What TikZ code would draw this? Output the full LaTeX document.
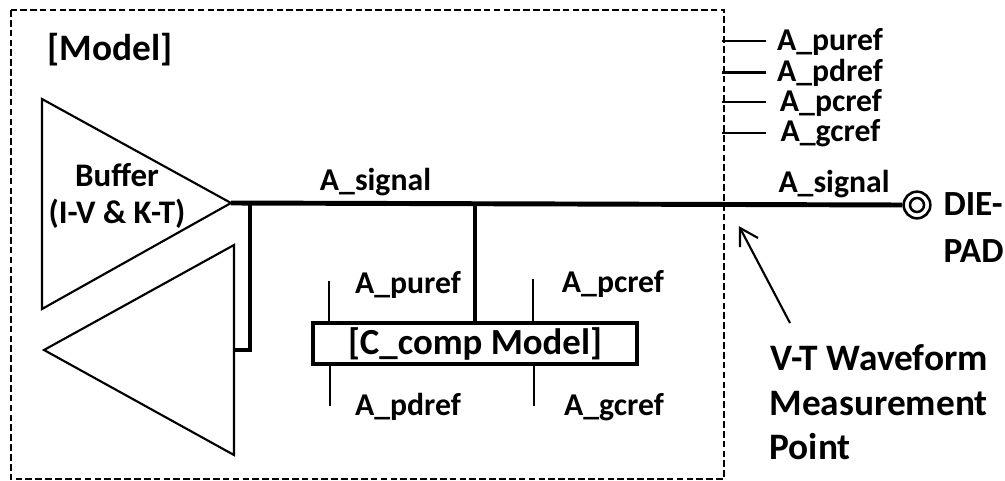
\documentclass[tikz,border=0pt]{standalone}
\usepackage{fontspec}
\setmainfont{Carlito}
\usetikzlibrary{calc}
\tikzset{every picture/.style={line width=0.75pt}}
\tikzset{
  thinline/.style={line width=1.6pt},
  thickline/.style={line width=3.7pt},
  pinlabel/.style={inner sep=0pt,anchor=base,font=\bfseries\fontsize{23.8}{28}\selectfont},
  buflabel/.style={inner sep=0pt,anchor=base,font=\bfseries\fontsize{24.7}{30}\selectfont},
  padlabel/.style={inner sep=0pt,anchor=base west,font=\bfseries\fontsize{26.5}{32}\selectfont},
  biglabel/.style={inner sep=0pt,anchor=base west,font=\bfseries\fontsize{28}{34}\selectfont},
}

\begin{document}
\begin{tikzpicture}[x=0.75pt,y=0.75pt,yscale=-1,xscale=1]
\useasboundingbox (0,0) rectangle (1005,481);

%Outer model box
\draw [line width=1.3pt,dash pattern=on 5pt off 2.4pt] (11,10) rectangle (724,479);

%Buffer triangles
\coordinate (bufa) at (42,99);
\coordinate (bufb) at (42,309);
\coordinate (buftip) at (231,203);
\coordinate (rcva) at (234,245);
\coordinate (rcvb) at (234,455);
\coordinate (rcvtip) at (44,350);
\coordinate (rcvpin) at (233,350);
\draw [thinline] (bufa) -- (buftip) -- (bufb) -- cycle;
\draw [thinline] (rcva) -- (rcvtip) -- (rcvb) -- cycle;

%Die pad
\node (padout) at (917,205) [circle,draw,line width=1.9pt,minimum size=20pt,inner sep=0pt] {};
\node (padin) at (917,205) [circle,draw,line width=1.9pt,minimum size=10.5pt,inner sep=0pt] {};

%Signal line
\draw [thickline] (buftip) -- (padout.west);
\coordinate (stuba) at (250,203);
\coordinate (stubb) at (250,350);
\draw [thickline,line join=miter] (stuba) -- (stubb) -- (rcvpin);

%Comp model
\node (comp) at (475,343.5) [draw,line width=2.6pt,minimum width=243pt,minimum height=31pt,inner sep=0pt,font=\bfseries\fontsize{27.6}{32}\selectfont] {[C\_comp Model]};
\coordinate (stubc) at (475,203);
\draw [thickline] (stubc) -- (comp.north);

%Comp model pins
\coordinate (puup) at (329,281);
\coordinate (pcup) at (533,279);
\coordinate (pddn) at (330,406);
\coordinate (gcdn) at (534,406);
\draw [thinline] (puup) -- (puup |- comp.north);
\draw [thinline] (pcup) -- (pcup |- comp.north);
\draw [thinline] (pddn) -- (pddn |- comp.south);
\draw [thinline] (gcdn) -- (gcdn |- comp.south);

%Reference pins
\node (lbpu) at (830,51) [pinlabel] {A\_puref};
\node (lbpd) at (830,81.5) [pinlabel] {A\_pdref};
\node (lbpc) at (831,112) [pinlabel] {A\_pcref};
\node (lbgc) at (830.5,142) [pinlabel] {A\_gcref};
\coordinate (pua) at (722,41);
\coordinate (pda) at (722,72.5);
\coordinate (pca) at (722,102);
\coordinate (gca) at (722,133);
\draw [thinline] (pua) -- (766,41);
\draw [thinline] (pda) -- (766,72.5);
\draw [thinline] (pca) -- (766,102);
\draw [thinline] (gca) -- (766,133);

%Measurement arrow
\coordinate (arrfrom) at (790,323);
\coordinate (arrto) at (740,228);
\draw [thinline] (arrfrom) -- (arrto);
\draw [thinline] (740,247) -- (arrto) -- (758,238);

% Text Node
\node (model) at (47,61) [biglabel] {[Model]};
% Text Node
\node (buffer) at (117,186) [buflabel] {Buffer};
% Text Node
\node (ivkt) at (117,223) [buflabel] {(I-V \& K-T)};
% Text Node
\node (siga) at (375.5,190.5) [pinlabel] {A\_signal};
% Text Node
\node (sigb) at (834,192) [pinlabel] {A\_signal};
% Text Node
\node (lbpua) at (408,293) [pinlabel] {A\_puref};
% Text Node
\node (lbpcb) at (613,292) [pinlabel] {A\_pcref};
% Text Node
\node (lbpda) at (408,415) [pinlabel] {A\_pdref};
% Text Node
\node (lbgcb) at (614,415) [pinlabel] {A\_gcref};
% Text Node
\node (die) at (943,215) [padlabel] {DIE-};
% Text Node
\node (pad) at (943,262) [padlabel] {PAD};
% Text Node
\node (vt) at (770,370) [biglabel] {V-T Waveform};
% Text Node
\node (meas) at (769,415) [biglabel] {Measurement};
% Text Node
\node (point) at (769,459) [biglabel] {Point};

\end{tikzpicture}
\end{document}
